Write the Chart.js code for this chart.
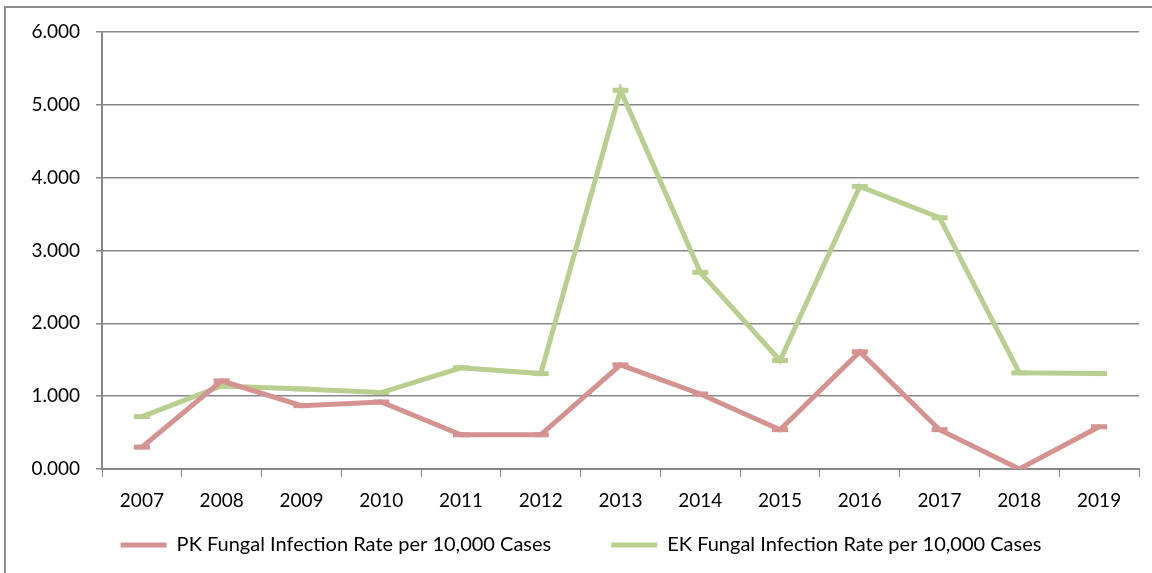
<!DOCTYPE html>
<html>
<head>
<meta charset="utf-8">
<script src="https://cdn.jsdelivr.net/npm/chart.js@4"></script>
<style>
  html, body { margin: 0; padding: 0; background: #fff; overflow: hidden; }
  #frame { position: absolute; left: 4px; top: 6px; width: 1160px; height: 580px; border: 2px solid #8e8e8e; }
  #wrap { position: absolute; left: 0; top: 0; width: 1152px; height: 573px; }
</style>
</head>
<body>
<div id="frame"></div>
<div id="wrap"><canvas id="rateChart"></canvas></div>
<script>
var years = ['2007', '2008', '2009', '2010', '2011', '2012', '2013', '2014', '2015', '2016', '2017', '2018', '2019'];
var pkRates = [0.30, 1.21, 0.87, 0.92, 0.47, 0.47, 1.43, 1.03, 0.54, 1.61, 0.54, 0.00, 0.58];
var ekRates = [0.72, 1.14, 1.10, 1.05, 1.39, 1.31, 5.20, 2.70, 1.49, 3.88, 3.45, 1.32, 1.31];
var pkLabel = 'PK Fungal Infection Rate per 10,000 Cases';
var ekLabel = 'EK Fungal Infection Rate per 10,000 Cases';

var font = "Lato, 'Open Sans', sans-serif";

function series(label, data, color) {
    return {
        label: label,
        data: data,
        borderColor: color,
        backgroundColor: color,
        borderWidth: 5,
        borderCapStyle: 'round',
        pointStyle: 'line',
        pointRadius: 8,
        pointBorderWidth: 5,
        pointBorderColor: color,
        pointHoverRadius: 8,
        tension: 0
    };
}

// legend padding gives the wide gap between the two items, but it also adds
// empty space above them; shrink the box and draw it a bit higher instead
var legendShift = 41;
var legendDx = 9;
var legendLift = {
    id: 'legendLift',
    beforeLayout: function(chart) {
        var lg = chart.legend;
        if (!lg || lg._lifted) return;
        var fit = lg.fit;
        var draw = lg.draw;
        lg.fit = function() {
            fit.apply(this, arguments);
            this.height -= legendShift;
        };
        lg.draw = function() {
            var top = this.top, left = this.left, right = this.right;
            this.top -= legendShift;
            this.left += legendDx;
            this.right += legendDx;
            draw.apply(this, arguments);
            this.top = top;
            this.left = left;
            this.right = right;
        };
        lg._lifted = true;
    }
};

var ctx = document.getElementById('rateChart').getContext('2d');
var rateChart = new Chart(ctx, {
    type: 'line',
    data: {
        labels: years,
        datasets: [
            series(pkLabel, pkRates, '#d49391'),
            series(ekLabel, ekRates, '#b9cf8f')
        ]
    },
    plugins: [legendLift],
    options: {
        responsive: true,
        maintainAspectRatio: false,
        animation: false,
        layout: { padding: { left: 0, top: 32, right: 8, bottom: 8 } },
        plugins: {
            legend: {
                position: 'bottom',
                labels: {
                    usePointStyle: true,
                    pointStyleWidth: 46,
                    boxHeight: 5,
                    padding: 60,
                    color: '#000',
                    font: { family: font, size: 20 }
                }
            },
            tooltip: { enabled: false }
        },
        scales: {
            x: {
                offset: true,
                afterFit: function(scale) { scale.height = 47; },
                grid: {
                    offset: true,
                    drawOnChartArea: false,
                    color: '#888',
                    tickLength: 8
                },
                border: { color: '#888', width: 2 },
                ticks: { color: '#000', font: { family: font, size: 19 }, padding: 12, maxRotation: 0 }
            },
            y: {
                min: 0,
                max: 6,
                afterFit: function(scale) { scale.width = 102; },
                grid: { color: '#888', lineWidth: 1.5, tickLength: 6 },
                border: { color: '#888', width: 2 },
                ticks: {
                    stepSize: 1,
                    color: '#000',
                    padding: 16,
                    font: { family: font, size: 19 },
                    callback: function(v) { return v.toFixed(3); }
                }
            }
        }
    }
});
</script>
</body>
</html>
